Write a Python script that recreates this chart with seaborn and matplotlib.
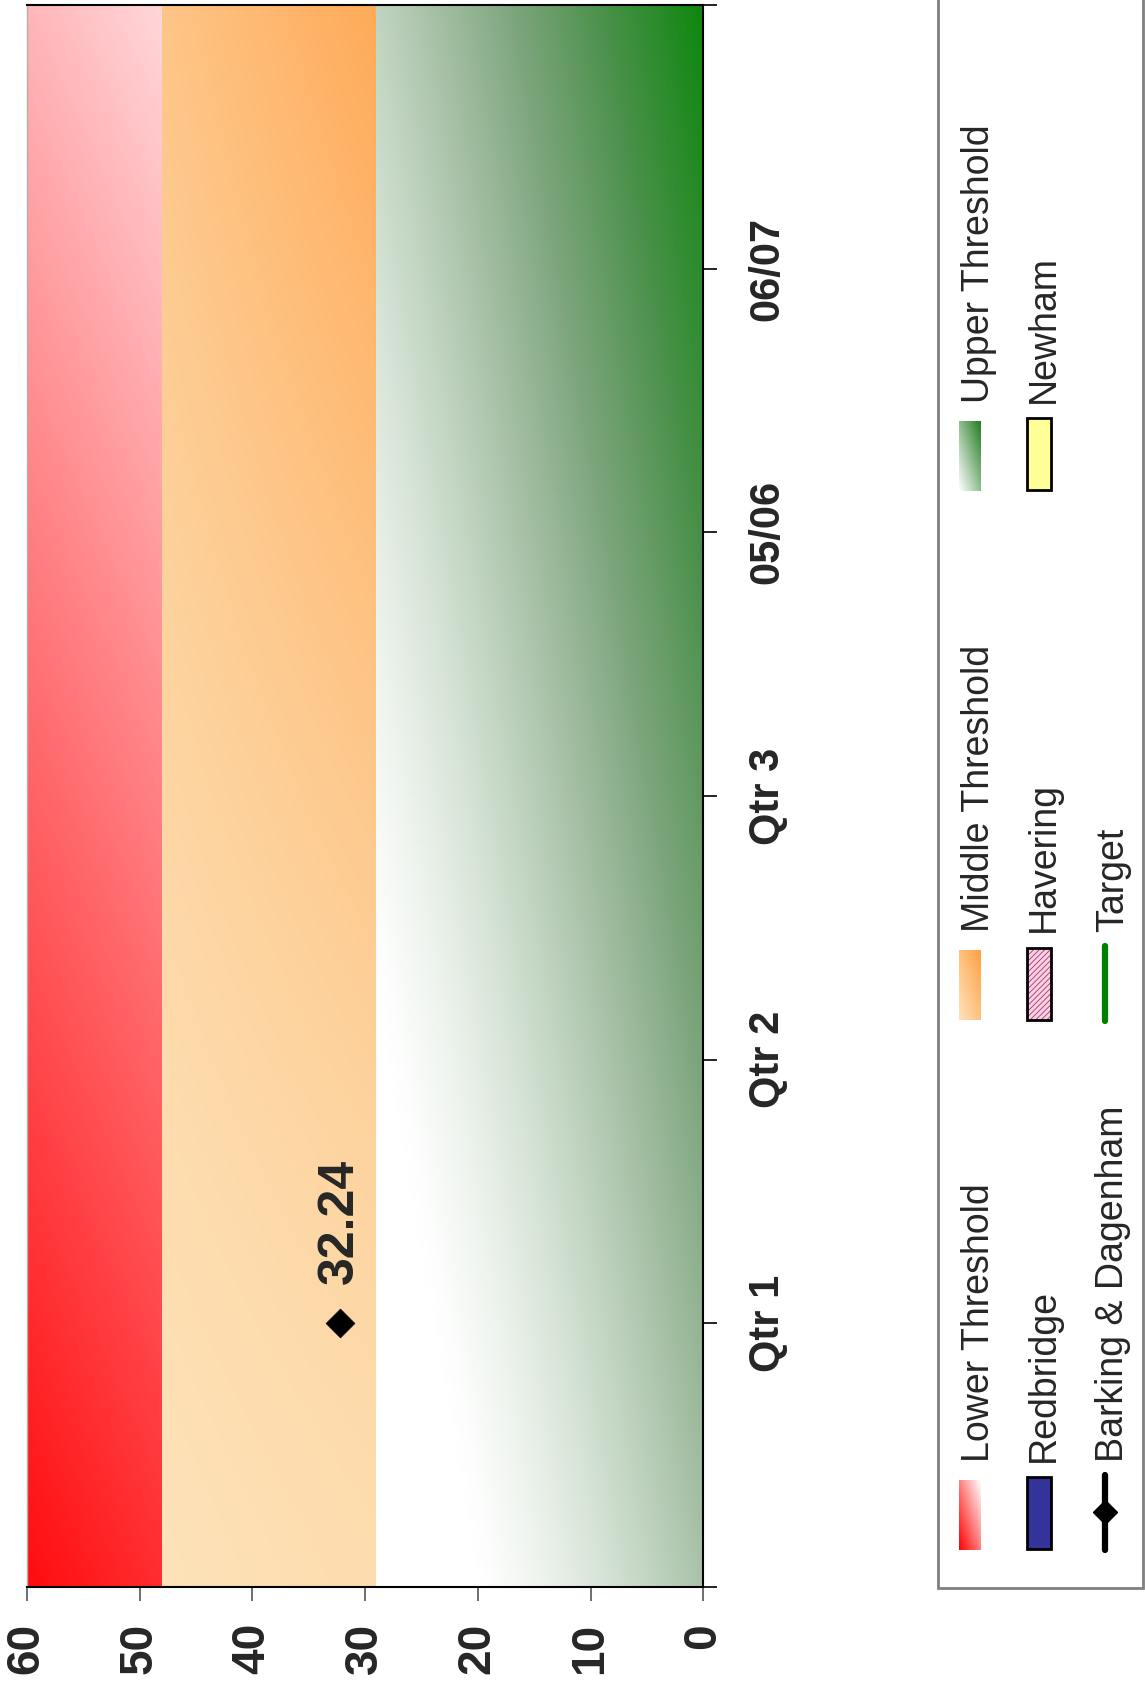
import numpy as np
import pandas as pd
import matplotlib
matplotlib.use("Agg")
import matplotlib.pyplot as plt
import seaborn as sns
from matplotlib.colors import LinearSegmentedColormap
from matplotlib.patches import Rectangle

# ---------------- data ----------------
categories = ["Qtr 1", "Qtr 2", "Qtr 3", "05/06", "06/07"]
barking_dagenham = [32.24, np.nan, np.nan, np.nan, np.nan]
redbridge = [np.nan, np.nan, np.nan, np.nan, np.nan]
havering = [np.nan, np.nan, np.nan, np.nan, np.nan]
newham = [np.nan, np.nan, np.nan, np.nan, np.nan]
target = [np.nan, np.nan, np.nan, np.nan, np.nan]
lower_threshold = [48, 60]
middle_threshold = [29, 48]
upper_threshold = [0, 29]
value_ticks = [0, 10, 20, 30, 40, 50, 60]
legend_rows = [["Lower Threshold", "Middle Threshold", "Upper Threshold"],
               ["Redbridge", "Havering", "Newham"],
               ["Barking & Dagenham", "Target"]]

# ---------------- style ----------------
sns.set_style("white")
plt.rcParams['font.family'] = ['Liberation Sans', 'DejaVu Sans']
plt.rcParams['hatch.linewidth'] = 0.6

W, H = 1145, 1684
fig = plt.figure(figsize=(W / 100, H / 100), dpi=100)
ax_l, ax_r, ax_t, ax_b = 26.8, 703.3, 5, 1587
ax = fig.add_axes([ax_l / W, 1 - ax_b / H, (ax_r - ax_l) / W, (ax_b - ax_t) / H])

ncat = len(categories)
pos = np.arange(1, ncat + 1)
vmax = max(value_ticks)

# ---------------- gradient bands ----------------
ny, nx = 300, 120
v = np.linspace(0, 1, ny)[:, None] * np.ones((1, nx))
u = np.ones((ny, 1)) * np.linspace(0, 1, nx)[None, :]

# red (lower threshold)
g = np.clip(12 + 170 * v + 33 * u, 0, 255)
red_img = np.dstack([np.full_like(g, 255), g, np.clip(g + 3, 0, 255)]) / 255.0

# orange (middle threshold)
w = v ** 1.3
t = np.clip(0.47 * w + 0.087 * u + 0.36 * u * w, 0, 1)
c0 = np.array([253, 226, 184]); c1 = np.array([255, 165, 80])
org_img = (c0[None, None, :] + t[..., None] * (c1 - c0)[None, None, :]) / 255.0

# green (upper threshold)
gcmap = LinearSegmentedColormap.from_list(
    "grn", [(0.0, (1, 1, 1)), (0.167, (215/255, 228/255, 215/255)),
            (0.354, (170/255, 195/255, 170/255)), (0.542, (125/255, 165/255, 125/255)),
            (0.75, (75/255, 145/255, 75/255)), (1.0, (15/255, 135/255, 15/255))])
tg = np.clip((u + 0.85 * v - 0.3) / 1.55, 0, 1) ** 1.3
grn_img = gcmap(tg)[..., :3]

for (lo, hi), img in [(lower_threshold, red_img), (middle_threshold, org_img), (upper_threshold, grn_img)]:
    ax.imshow(img, extent=(hi, lo, 0, ncat + 1), origin='lower', aspect='auto',
              interpolation='bilinear', zorder=0)

ax.set_xlim(vmax, 0)
ax.set_ylim(0, ncat + 1)

# ---------------- data series ----------------
df = pd.DataFrame({"value": barking_dagenham, "pos": pos})
sns.scatterplot(data=df, x="value", y="pos", marker="D", s=215, color="black",
                edgecolor="black", linewidth=0.5, ax=ax, legend=False, zorder=5)
for val, p in zip(barking_dagenham, pos):
    if not np.isnan(val):
        ax.annotate(f"{val:.2f}", (val, p), xytext=(0, 28), textcoords="offset points",
                    rotation=90, ha="center", va="bottom", fontsize=36, fontweight="bold")

# ---------------- axes styling ----------------
for side in ["top", "right", "bottom"]:
    ax.spines[side].set_color("black")
    ax.spines[side].set_linewidth(1.5)
ax.spines["left"].set_color("#b0b0b0")
ax.spines["left"].set_linewidth(1.0)

ax.set_xticks(value_ticks)
ax.set_xticklabels([str(v_) for v_ in value_ticks], rotation=90, fontsize=33,
                   fontweight="bold", ha="center", va="top")
ax.tick_params(axis="x", bottom=True, direction="out", length=10, width=1.2,
               color="#555555", pad=16)

ax.yaxis.tick_right()
ax.set_yticks(np.arange(0, ncat + 2))
ax.set_yticklabels([""] + categories + [""], rotation=90, fontsize=30,
                   fontweight="bold", va="center", ha="left")
ax.tick_params(axis="y", right=True, left=False, direction="out", length=10,
               width=1.2, color="black", pad=22)
ax.set_xlabel("")
ax.set_ylabel("")

# ---------------- legend (rotated, drawn in pixel coords) ----------------
lax = fig.add_axes([0, 0, 1, 1])
lax.set_xlim(0, W)
lax.set_ylim(H, 0)
lax.axis("off")
lax.patch.set_visible(False)

lax.add_patch(Rectangle((938, -10), 205, 1598, fill=False, edgecolor="#7f7f7f", linewidth=2))

col_start = [1462, 932.5, 403]
row_swatch = [(959, 981), (1027, 1051)]
row_base = [989, 1054, 1123]
row3_x = 1105

sn = 60
su = np.ones((sn, 1)) * np.linspace(0, 1, sn)[None, :]
sv = np.linspace(0, 1, sn)[:, None] * np.ones((1, sn))
st = (su + sv) / 2.0


def grad(ca, cb):
    ca = np.array(ca) / 255.0; cb = np.array(cb) / 255.0
    return ca[None, None, :] + st[..., None] * (cb - ca)[None, None, :]


sw_imgs = [grad((255, 0, 0), (255, 255, 255)),
           grad((253, 228, 190), (255, 160, 65)),
           grad((255, 255, 255), (35, 125, 35))]

for ci, label in enumerate(legend_rows[0]):
    y0 = col_start[ci]
    x0, x1 = row_swatch[0]
    lax.imshow(sw_imgs[ci], extent=(x0, x1, y0 + 88, y0 + 18), origin="lower",
               aspect="auto", interpolation="bilinear")
    lax.text(row_base[0], y0, label, rotation=90, rotation_mode="anchor",
             ha="left", va="baseline", fontsize=27)

row2_faces = ["#333399", "#F7D2E4", "#FFFF99"]
for ci, label in enumerate(legend_rows[1]):
    y0 = col_start[ci]
    x0, x1 = row_swatch[1]
    if label == "Havering":
        lax.add_patch(Rectangle((x0, y0 + 15), x1 - x0, 72, facecolor=row2_faces[ci],
                                edgecolor="#B0306F", hatch="//////", linewidth=0))
        lax.add_patch(Rectangle((x0, y0 + 15), x1 - x0, 72, fill=False,
                                edgecolor="black", linewidth=2))
    else:
        lax.add_patch(Rectangle((x0, y0 + 15), x1 - x0, 72, facecolor=row2_faces[ci],
                                edgecolor="black", linewidth=2))
    lax.text(row_base[1], y0, label, rotation=90, rotation_mode="anchor",
             ha="left", va="baseline", fontsize=27)

# row 3: line handles
y0 = col_start[0]
lax.plot([row3_x, row3_x], [y0 + 13, y0 + 88], color="black", linewidth=4.5,
         solid_capstyle="round")
lax.plot([row3_x], [y0 + 50], marker="D", markersize=12.5, color="black")
lax.text(row_base[2], y0, legend_rows[2][0], rotation=90, rotation_mode="anchor",
         ha="left", va="baseline", fontsize=27)
y0 = col_start[1]
lax.plot([row3_x, row3_x], [y0 + 13, y0 + 88], color="#008000", linewidth=4.5,
         solid_capstyle="round")
lax.text(row_base[2], y0, legend_rows[2][1], rotation=90, rotation_mode="anchor",
         ha="left", va="baseline", fontsize=27)

fig.savefig("out.png", dpi=100)
